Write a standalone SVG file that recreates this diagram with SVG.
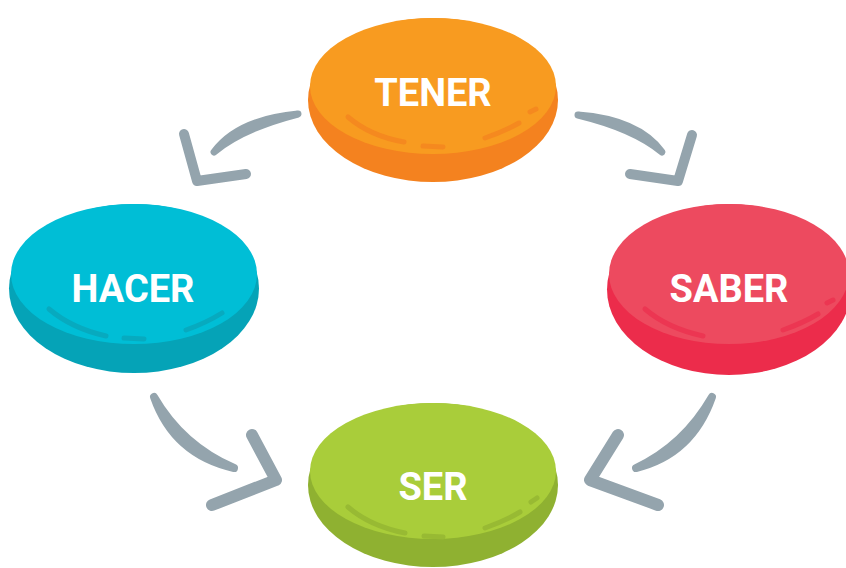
<svg xmlns="http://www.w3.org/2000/svg" width="846" height="568" viewBox="0 0 846 568">
<style>
.lbl{font-family:Roboto,"Liberation Sans",sans-serif;font-weight:bold;font-size:38px;fill:#fff;text-anchor:middle}
.arr{fill:none;stroke:#94A4AD;stroke-linecap:round;stroke-linejoin:round}
.shaft{fill:#94A4AD;stroke:#94A4AD;stroke-linejoin:round;stroke-linecap:round}
.hl{fill:none;stroke-linecap:round;stroke-width:5}
</style>
<rect width="846" height="568" fill="#fff"/>
<g id="connectors">
<path class="shaft" stroke-width="7" d="M298,114 Q242,128.5 214,152 Q238,119.5 298,114Z"/>
<path class="arr" stroke-width="10" d="M184,134 L197,181 L246,174"/>
<path class="shaft" stroke-width="7" d="M578,115 Q634,128.6 662,152 Q638,119.4 578,115Z"/>
<path class="arr" stroke-width="10" d="M630,174 L678,181 L692,135"/>
<path class="shaft" stroke-width="8" d="M154,397 Q174,454.5 234,468 Q182,445.5 154,397Z"/>
<path class="arr" stroke-width="12" d="M252,435 L276,480 L212,505"/>
<path class="shaft" stroke-width="8" d="M712,397 Q692,454.4 636,468 Q684,445.6 712,397Z"/>
<path class="arr" stroke-width="12" d="M618,435 L590,480 L658,505"/>
</g>
<g id="tener">
<ellipse cx="433" cy="100" rx="125" ry="82" fill="#F4821F"/>
<ellipse cx="433" cy="86" rx="123" ry="68" fill="#F89B20"/>
<g stroke="#F5891F" class="hl">
<path d="M348,117 Q370,136 404,142"/>
<path d="M423,146 L443,147"/>
<path d="M485,138 Q505,131 519,123"/>
<path d="M530,112 L536,109"/>
</g>
<text class="lbl" x="433" y="106">TENER</text>
</g>
<g id="hacer">
<ellipse cx="134" cy="288.5" rx="125" ry="84.5" fill="#05A3B7"/>
<ellipse cx="134" cy="274" rx="123" ry="70" fill="#00BED6"/>
<g stroke="#07AABF" class="hl">
<path d="M49,309 Q71,328 106,336"/>
<path d="M124,338 L144,339"/>
<path d="M186,330 Q206,323 222,313"/>
</g>
<text class="lbl" x="133" y="302">HACER</text>
</g>
<g id="saber">
<ellipse cx="729" cy="289.5" rx="122" ry="85.5" fill="#EC2C4B"/>
<ellipse cx="729" cy="274" rx="120" ry="70" fill="#ED4A5F"/>
<g stroke="#EC3652" class="hl">
<path d="M645,309 Q667,328 703,336"/>
<path d="M783,330 Q803,323 818,314"/>
<path d="M827,303 L833,300"/>
</g>
<text class="lbl" x="729" y="302">SABER</text>
</g>
<g id="ser">
<ellipse cx="433" cy="485" rx="125" ry="82" fill="#8FB131"/>
<ellipse cx="433" cy="471" rx="123" ry="68" fill="#A9CD3A"/>
<g stroke="#98BA33" class="hl">
<path d="M348,507 Q370,526 405,533"/>
<path d="M424,536 L443,537"/>
<path d="M485,528 Q505,521 520,512"/>
<path d="M531,502 L537,498"/>
</g>
<text class="lbl" x="433" y="500">SER</text>
</g>
</svg>
